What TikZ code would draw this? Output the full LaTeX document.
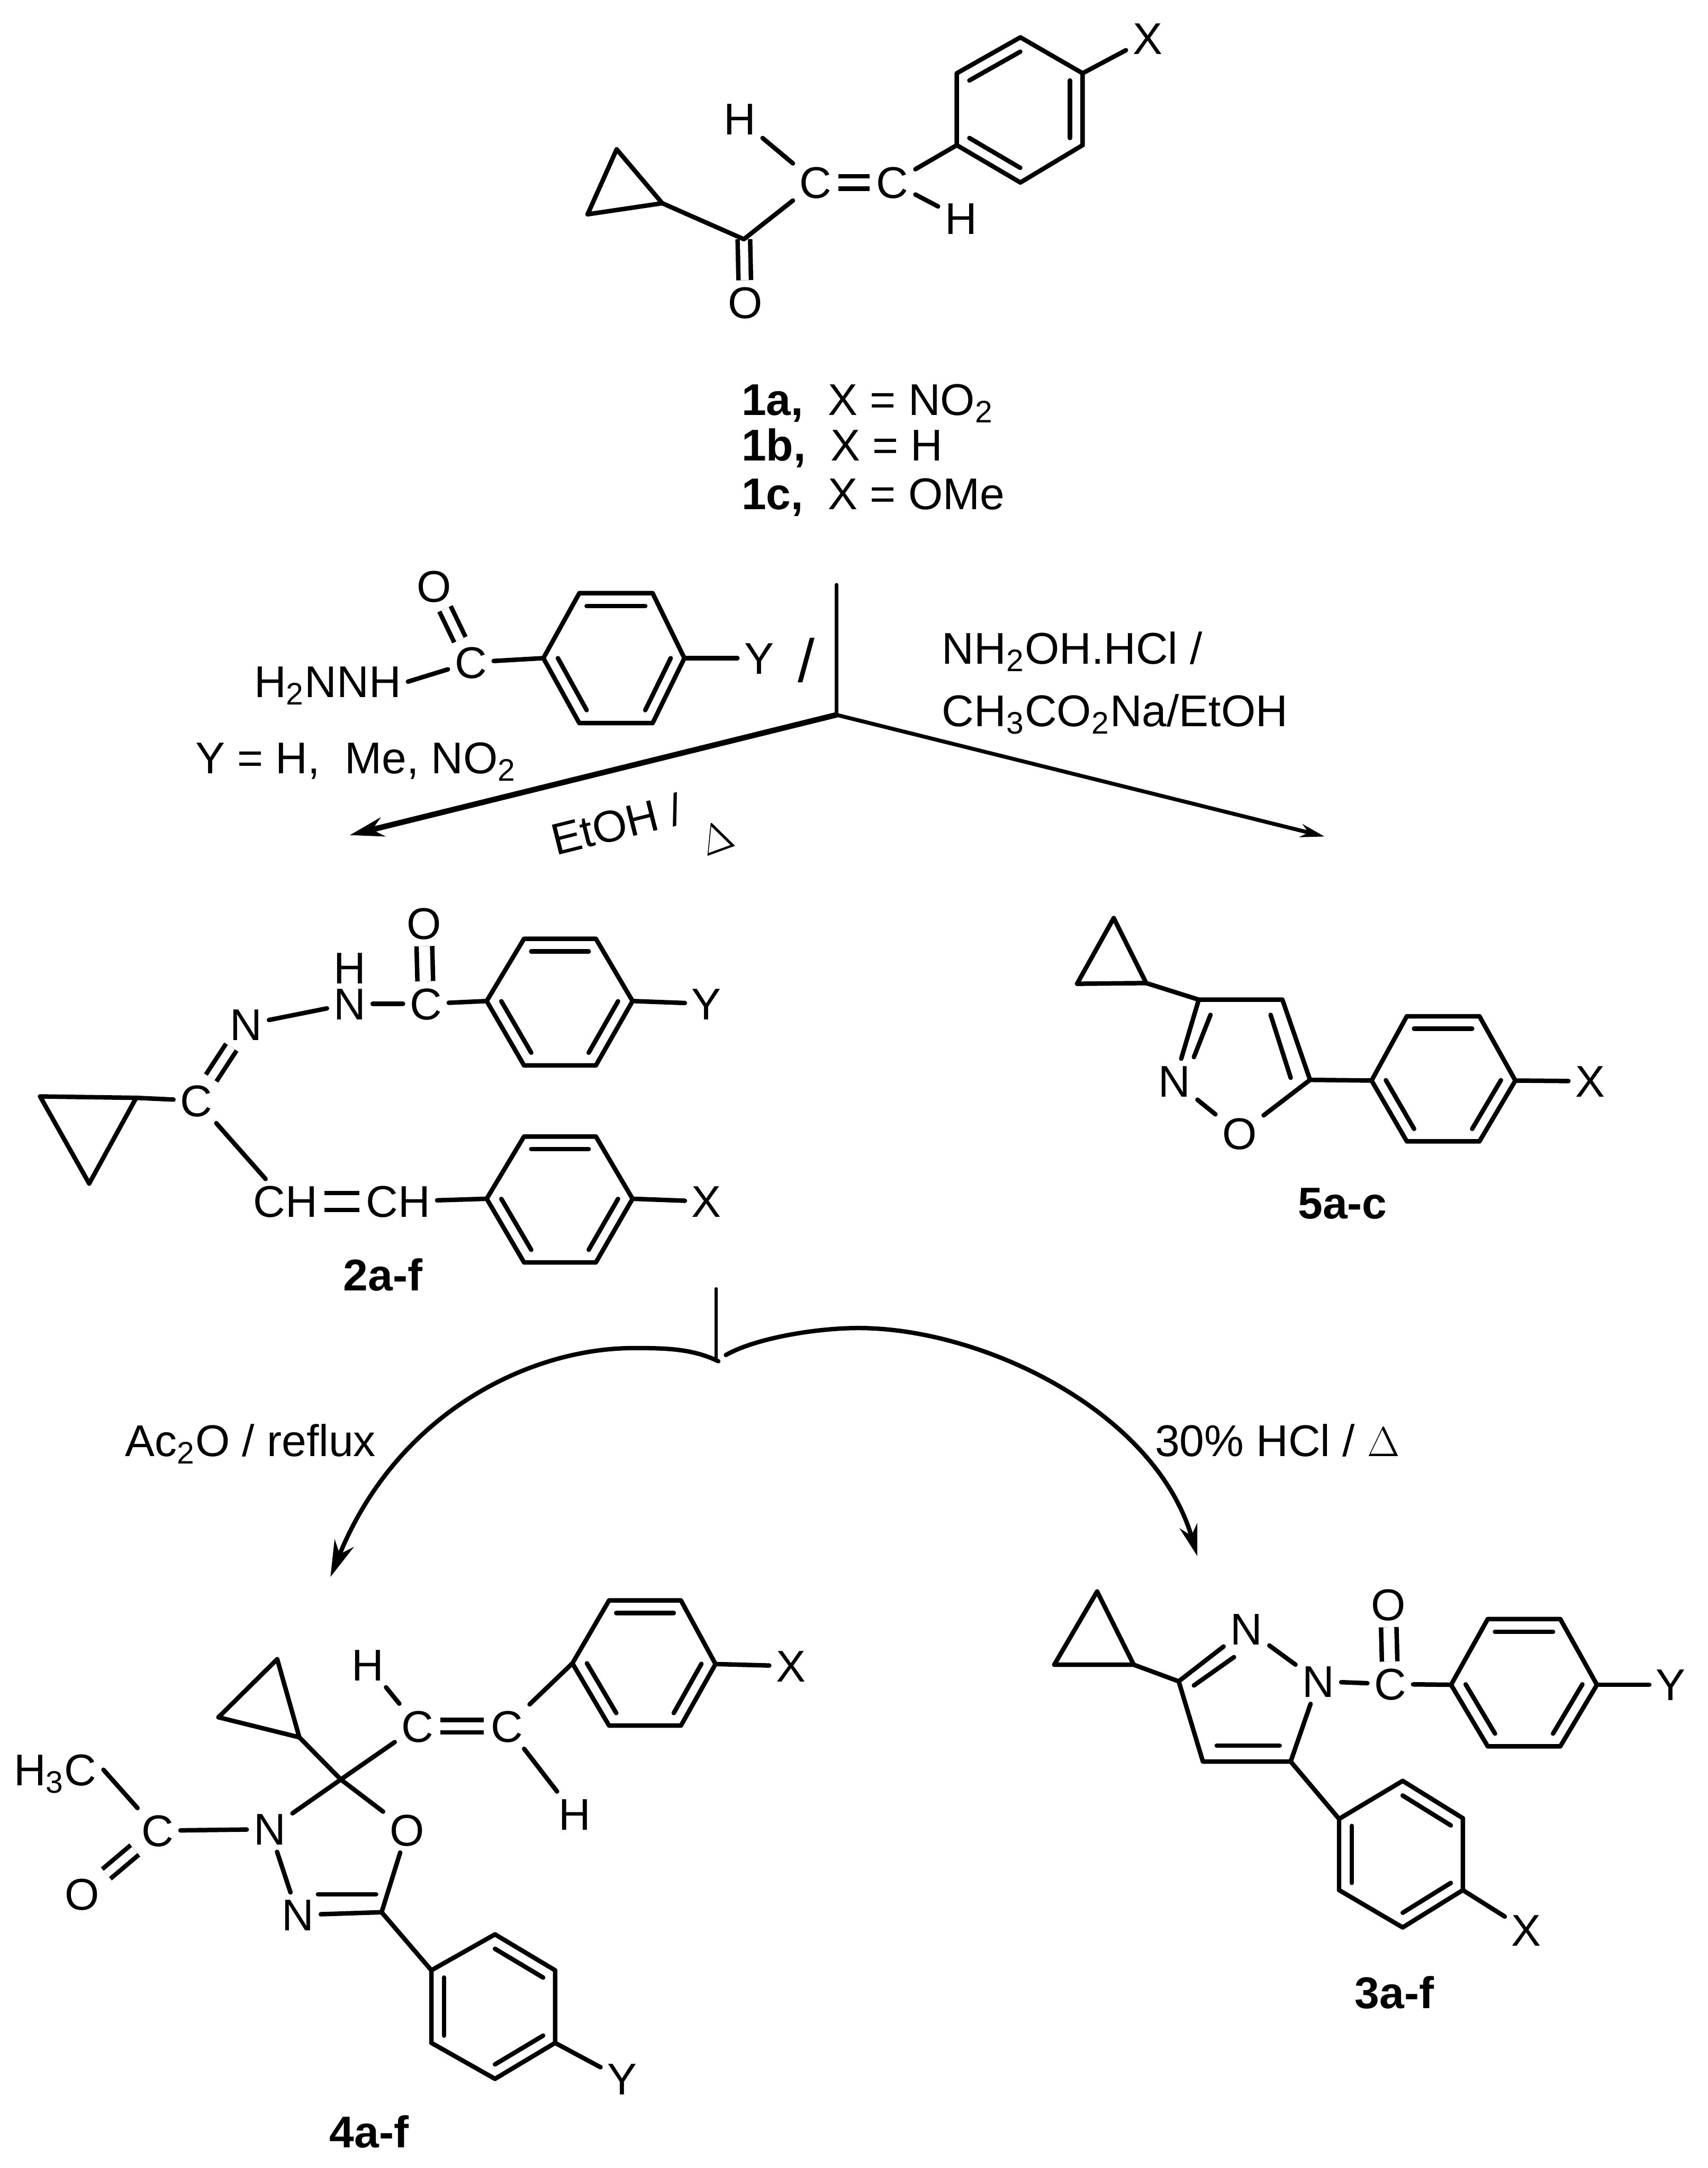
\documentclass[tikz,border=0pt]{standalone}
\usepackage{fontspec}
\setmainfont{Liberation Sans}
\usetikzlibrary{arrows.meta,calc}

\tikzset{
  atom/.style={inner sep=2.6pt, text height=13pt, text depth=0pt, font=\fontsize{18.3}{22}\selectfont},
  lbl/.style={atom, anchor=west, inner sep=0pt},
  cpd/.style={atom, font=\fontsize{18.3}{22}\selectfont\bfseries},
  bond/.style={line width=1.85pt, line cap=round, line join=round},
  dbl/.style={line width=1.85pt, double, double distance=3.3pt, line cap=butt},
  rxn/.style={line cap=round}
}

\newcommand{\arylring}[7]{%
  \coordinate (#1a) at (#2);
  \coordinate (#1b) at (#3);
  \coordinate (#1c) at (#4);
  \coordinate (#1d) at (#5);
  \coordinate (#1e) at (#6);
  \coordinate (#1f) at (#7);
  \coordinate (#1o) at ($(#1a)!.5!(#1d)$);
  \draw[bond] (#1a) -- (#1b) -- (#1c) -- (#1d) -- (#1e) -- (#1f) -- cycle;
  \foreach \p/\q in {a/b,c/d,e/f}
    \draw[bond] ($(#1\p)!.2!(#1o)$) -- ($(#1\q)!.2!(#1o)$);
}

\begin{document}
\begin{tikzpicture}[x=0.02cm, y=-0.02cm]
\useasboundingbox (0,0) rectangle (1235,1568);

\arylring{aR}{692,53}{738,27}{783,53}{783,105}{738,132}{692,105}
\coordinate (aP1) at (446,108);
\coordinate (aP2) at (425,155);
\coordinate (aP3) at (479,147);
\coordinate (aK) at (538,173);
\node [atom] (aC1) at (590,132) {C};
\node [atom] (aC2) at (645.5,132) {C};
\node [atom] (aH1) at (535,86) {H};
\node [atom] (aH2) at (695,158) {H};
\node [atom] (aO) at (539,219) {O};
\node [atom] (aX) at (830,28) {X};
\draw [bond] (aP1) -- (aP2) -- (aP3) -- cycle;
\draw [dbl] (aK) -- (aO);
\draw [bond] (aP3) -- (aK);
\draw [bond] (aK) -- (aC1);
\draw [bond] (aC1) -- (aH1);
\draw [dbl] (aC1) -- (aC2);
\draw [bond] (aC2) -- (aRf);
\draw [bond] (aC2) -- (aH2);
\draw [bond] (aRc) -- (aX);
\node [lbl] (aL1) at (536,289) {\textbf{1a,}~~X = NO\textsubscript{2}};
\node [lbl] (aL2) at (536,322) {\textbf{1b,}~~X = H};
\node [lbl] (aL3) at (536,357) {\textbf{1c,}~~X = OMe};

\coordinate (jTop) at (605,423);
\coordinate (jMid) at (605,517);
\coordinate (jLeft) at (253,604);
\coordinate (jRight) at (958,605);
\draw [rxn, line width=1.6pt] (jTop) -- (jMid);
\draw [rxn, line width=2.3pt, -{Stealth[length=14pt,width=8pt]}] (jMid) -- (jLeft);
\draw [rxn, line width=1.6pt, -{Stealth[length=10pt,width=5.5pt]}] (jMid) -- (jRight);

\arylring{hR}{419,429}{472,429}{495,476}{472,523}{419,523}{393,476}
\node [atom] (hO) at (314,424) {O};
\node [atom] (hC) at (340.5,479) {C};
\node [atom] (hNH) at (237,493) {H\textsubscript{2}NNH};
\node [atom] (hY) at (549,476) {Y};
\node [atom, font=\fontsize{25}{28}\selectfont] (hSl) at (583,482) {/};
\draw [dbl] (hC) -- (hO);
\draw [bond] (hNH.east) -- (hC);
\draw [bond] (hC) -- (hRf);
\draw [bond] (hRc) -- (hY);
\node [lbl] (hL) at (141,548) {Y = H,~~Me, NO\textsubscript{2}};
\node [atom, rotate=14] (hE) at (446,596) {EtOH /};
\node [atom, rotate=20] (hD) at (518,605) {$\Delta$};
\node [lbl] (hA) at (681,469) {NH\textsubscript{2}OH.HCl /};
\node [lbl] (hB) at (681,514) {CH\textsubscript{3}CO\textsubscript{2}Na/EtOH};

\arylring{bRy}{379,679}{431,679}{457.5,724}{431,770.5}{379,770.5}{352,724}
\arylring{bRx}{379,822}{431,822}{457.5,867}{431,913}{379,913}{352,867}
\coordinate (bP1) at (29,793);
\coordinate (bP2) at (98.5,794);
\coordinate (bP3) at (64.5,856);
\node [atom] (bC) at (142,796) {C};
\node [atom] (bN1) at (178,741) {N};
\node [atom] (bN2) at (253,726) {N};
\node [atom] (bH) at (253,700) {H};
\node [atom] (bC2) at (308,726) {C};
\node [atom] (bO) at (306.5,668) {O};
\node [atom] (bY) at (511,726) {Y};
\node [atom] (bCH1) at (206.5,869) {CH};
\node [atom] (bCH2) at (288,869) {CH};
\node [atom] (bX) at (511,869) {X};
\draw [bond] (bP1) -- (bP2) -- (bP3) -- cycle;
\draw [bond] (bP2) -- (bC);
\draw [dbl] (bC) -- (bN1);
\draw [bond] (bN1) -- (bN2);
\draw [bond] (bN2) -- (bC2);
\draw [dbl, double distance=4.6pt] (bC2) -- (bO);
\draw [bond] (bC2) -- (bRyf);
\draw [bond] (bRyc) -- (bY);
\draw [bond] (bC) -- (bCH1);
\draw [dbl, double distance=5.2pt] (bCH1) -- (bCH2);
\draw [bond] (bCH2) -- (bRxf);
\draw [bond] (bRxc) -- (bX);
\node [cpd] (bL) at (277,922) {2a-f};

\arylring{eR}{1017.5,735}{1070,735}{1096,781.5}{1070,825.5}{1017.5,825.5}{992,781.5}
\coordinate (eP1) at (805.5,664);
\coordinate (eP2) at (779,711.5);
\coordinate (eP3) at (829,711);
\coordinate (eA) at (867,723);
\coordinate (eB) at (927.5,723);
\coordinate (eC) at (947.5,781);
\coordinate (eI1) at (875.5,734);
\coordinate (eI2) at (863.5,764.5);
\coordinate (eI3) at (919,734);
\coordinate (eI4) at (933.5,779.5);
\node [atom] (eN) at (849.5,782) {N};
\node [atom] (eO) at (896.5,820) {O};
\node [atom] (eX) at (1150,782) {X};
\draw [bond] (eP1) -- (eP2) -- (eP3) -- cycle;
\draw [bond] (eP3) -- (eA) -- (eB) -- (eC);
\draw [bond] (eA) -- (eN);
\draw [bond] (eI1) -- (eI2);
\draw [bond] (eI3) -- (eI4);
\draw [bond] (eN) -- (eO);
\draw [bond] (eO) -- (eC);
\draw [bond] (eC) -- (eRf);
\draw [bond] (eRc) -- (eX);
\node [cpd] (eL) at (971,870) {5a-c};

\coordinate (kTop) at (518,932);
\coordinate (kFoot) at (518,982);
\coordinate (kL0) at (519.5,984.5);
\coordinate (kL1) at (458,975);
\coordinate (kL2) at (239,1140.5);
\coordinate (kR0) at (525,980);
\coordinate (kR1) at (621,960.5);
\coordinate (kR2) at (866,1125.5);
\draw [rxn, line width=1.2pt] (kTop) -- (kFoot);
\draw [rxn, line width=1.8pt, -{Stealth[length=15pt,width=8.5pt]}] (kL0) .. controls (500,975) and (480,975) .. (kL1) .. controls (385,975) and (288,1020) .. (kL2);
\draw [rxn, line width=1.8pt, -{Stealth[length=13pt,width=7.5pt]}] (kR0) .. controls (545,968.5) and (588,960.5) .. (kR1) .. controls (710,960.5) and (835,1020) .. (kR2);
\node [lbl] (kA) at (90,1042) {Ac\textsubscript{2}O / reflux};
\node [lbl] (kB) at (835,1042) {30\% HCl / $\Delta$};

\arylring{cRy}{1076,1171}{1128.5,1171}{1155,1218.5}{1128.5,1263}{1076,1263}{1049.5,1218.5}
\arylring{cRx}{1014.5,1288}{1058,1315}{1058,1367}{1014.5,1394}{968.5,1367}{968.5,1315.5}
\coordinate (cP1) at (793.5,1151);
\coordinate (cP2) at (762.5,1204);
\coordinate (cP3) at (820,1204);
\coordinate (cA) at (852.5,1216);
\coordinate (cD) at (933.5,1274);
\coordinate (cE) at (870,1274);
\coordinate (cI1) at (863.5,1219);
\coordinate (cI2) at (892.5,1198.5);
\coordinate (cI3) at (880,1262.5);
\coordinate (cI4) at (925.5,1262.5);
\node [atom] (cN1) at (901.5,1178) {N};
\node [atom] (cN2) at (953.5,1216) {N};
\node [atom] (cC) at (1005.5,1218) {C};
\node [atom] (cO) at (1004,1160.5) {O};
\node [atom] (cY) at (1208.5,1218.5) {Y};
\node [atom] (cX) at (1104,1396) {X};
\draw [bond] (cP1) -- (cP2) -- (cP3) -- cycle;
\draw [bond] (cP3) -- (cA);
\draw [bond] (cA) -- (cN1);
\draw [bond] (cI1) -- (cI2);
\draw [bond] (cN1) -- (cN2);
\draw [bond] (cN2) -- (cD);
\draw [bond] (cD) -- (cE) -- (cA);
\draw [bond] (cI3) -- (cI4);
\draw [bond] (cD) -- (cRxf);
\draw [bond] (cN2) -- (cC);
\draw [dbl, double distance=4.5pt] (cC) -- (cO);
\draw [bond] (cC) -- (cRyf);
\draw [bond] (cRyc) -- (cY);
\draw [bond] (cRxc) -- (cX);
\node [cpd] (cL) at (1008.5,1441) {3a-f};

\arylring{dRx}{440.5,1157.5}{492.5,1157.5}{517.5,1203.5}{492.5,1248}{440.5,1248}{414,1203}
\arylring{dRy}{358,1399}{401.5,1425}{401.5,1477.5}{358,1503.5}{312,1477.5}{312,1425}
\coordinate (dP1) at (200.5,1200);
\coordinate (dP2) at (158,1242);
\coordinate (dP3) at (216.5,1256.5);
\coordinate (dQ) at (246.5,1287);
\coordinate (dK) at (276,1383);
\coordinate (dI1) at (230,1370);
\coordinate (dI2) at (272,1370);
\node [atom] (dC1) at (302,1248.5) {C};
\node [atom] (dC2) at (366.5,1248.5) {C};
\node [atom] (dH1) at (266,1204) {H};
\node [atom] (dH2) at (415.5,1312) {H};
\node [atom] (dX) at (572,1205) {X};
\node [atom] (dN1) at (195,1323) {N};
\node [atom] (dO1) at (294.5,1323.5) {O};
\node [atom] (dN2) at (215.5,1385) {N};
\node [atom] (dC3) at (114,1324) {C};
\node [atom] (dO2) at (59.5,1370) {O};
\node [atom] (dMe) at (40,1280) {H\textsubscript{3}C};
\node [atom] (dY) at (450,1503.5) {Y};
\draw [bond] (dP1) -- (dP2) -- (dP3) -- cycle;
\draw [bond] (dP3) -- (dQ);
\draw [bond] (dQ) -- (dC1);
\draw [bond] (dC1) -- (dH1);
\draw [dbl] (dC1) -- (dC2);
\draw [bond] (dC2) -- (dH2);
\draw [bond] (dC2) -- (dRxf);
\draw [bond] (dRxc) -- (dX);
\draw [bond] (dQ) -- (dN1);
\draw [bond] (dQ) -- (dO1);
\draw [bond] (dN1) -- (dN2);
\draw [bond] (dN2) -- (dK);
\draw [bond] (dI1) -- (dI2);
\draw [bond] (dO1) -- (dK);
\draw [bond] (dK) -- (dRyf);
\draw [bond] (dRyc) -- (dY);
\draw [bond] (dC3) -- (dN1);
\draw [bond] (dMe.east) -- (dC3);
\draw [dbl] (dC3) -- (dO2);
\node [cpd] (dL) at (267,1542) {4a-f};

\end{tikzpicture}
\end{document}
